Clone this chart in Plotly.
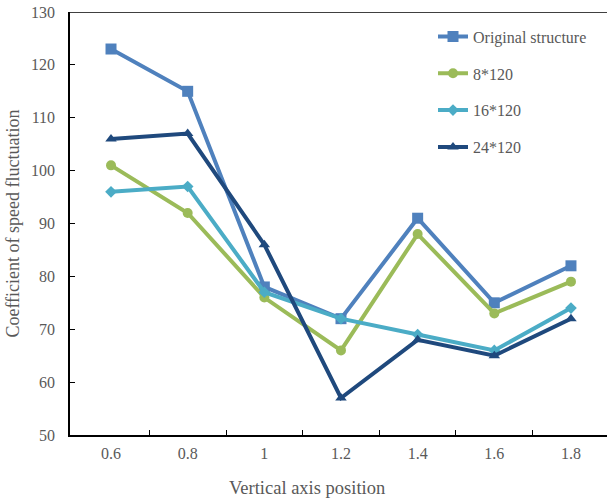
import plotly.graph_objects as go

categories = ["0.6", "0.8", "1", "1.2", "1.4", "1.6", "1.8"]
original = [123, 115, 78, 72, 91, 75, 82]
s8_120 = [101, 92, 76, 66, 88, 73, 79]
s16_120 = [96, 97, 77, 72, 69, 66, 74]
s24_120 = [106, 107, 86, 57, 68, 65, 72]

series = [
    ("Original structure", original, "#4F81BD", "square", 11),
    ("8*120", s8_120, "#9BBB59", "circle", 10),
    ("16*120", s16_120, "#4BACC6", "diamond", 9),
    ("24*120", s24_120, "#1F497D", "triangle-up", 10),
]

xidx = list(range(len(categories)))
FONT = "Times New Roman"
GREY = "#595959"

W, H = 607, 503
L, R, T, B = 70, 0, 12, 68
PW, PH = W - L - R, H - T - B

fig = go.Figure()
for name, vals, color, sym, size in series:
    fig.add_trace(go.Scatter(
        x=xidx, y=vals, name=name, mode="lines+markers",
        line=dict(color=color, width=4),
        marker=dict(symbol=sym, size=size, color=color),
        legendgroup=name,
    ))

fig.update_layout(
    width=W, height=H,
    margin=dict(l=L, r=R, t=T, b=B),
    plot_bgcolor="white", paper_bgcolor="white",
    font=dict(family=FONT, color=GREY, size=16),
    showlegend=True,
    legend=dict(x=(433 - L) / PW, y=0.982, xanchor="left", yanchor="top",
                font=dict(family=FONT, size=16, color=GREY),
                tracegroupgap=13, bgcolor="rgba(0,0,0,0)"),
    xaxis=dict(
        range=[-0.535, 6.47],
        tickmode="array", tickvals=xidx, ticktext=categories,
        ticks="", showline=True, linecolor="black", linewidth=1.5,
        showgrid=False, zeroline=False,
        tickfont=dict(family=FONT, size=16, color=GREY),
        ticklabelstandoff=3,
        minor=dict(tickmode="array", tickvals=[i + 0.5 for i in xidx[:-1]],
                   ticks="inside", ticklen=5, tickcolor="black", tickwidth=1),
    ),
    yaxis=dict(
        range=[50, 130], tickvals=[50, 60, 70, 80, 90, 100, 110, 120, 130],
        ticks="inside", ticklen=5, tickcolor="black",
        showline=True, linecolor="black", linewidth=1.5,
        showgrid=False, zeroline=False,
        tickfont=dict(family=FONT, size=16, color=GREY),
        ticklabelstandoff=10, ticklabeloverflow="allow",
        title=dict(text="Coefficient of speed fluctuation",
                   font=dict(family=FONT, size=18, color=GREY), standoff=7),
    ),
    shapes=[dict(type="line", xref="paper", yref="y", x0=0, x1=1, y0=130, y1=130,
                 line=dict(color="black", width=1.5))],
    annotations=[dict(text="Vertical axis position", xref="paper", yref="paper",
                      x=(307 - L) / PW, y=(435 - 488) / PH, xanchor="center", yanchor="middle",
                      showarrow=False, font=dict(family=FONT, size=18.5, color=GREY))],
)

fig.write_html("out.html",
               config={"displayModeBar": False},
               post_script="document.body.style.margin='0';document.body.style.overflow='hidden';")
